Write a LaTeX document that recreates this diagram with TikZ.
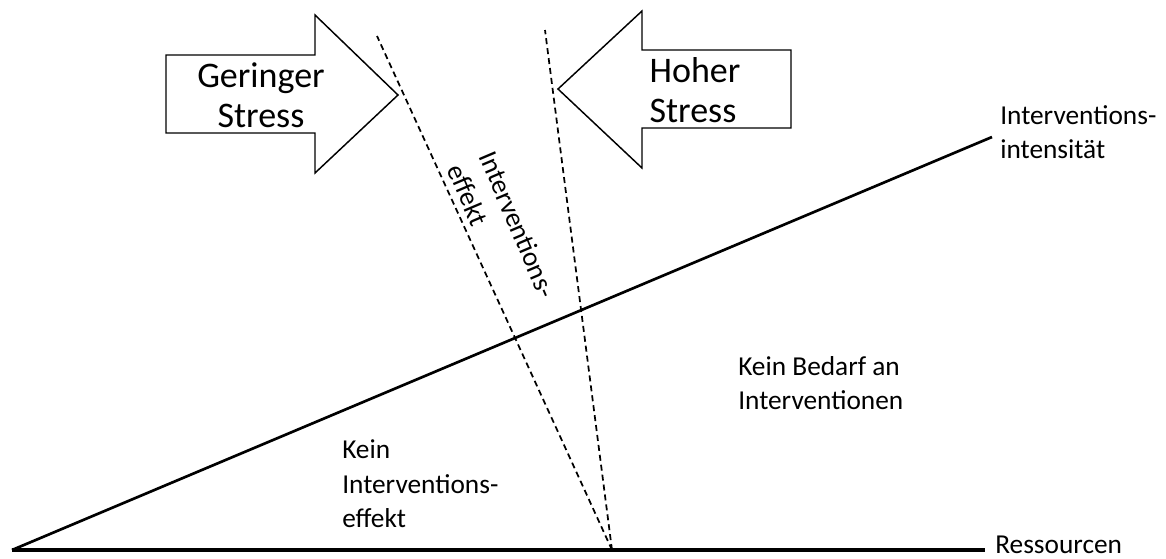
\documentclass[tikz,border=0pt]{standalone}
\usepackage{fontspec}
\setmainfont{Carlito}
\usetikzlibrary{calc}

\begin{document}
\begin{tikzpicture}[x=0.75pt, y=-0.75pt,
  bigtext/.style={font=\fontsize{27}{30}\selectfont, inner sep=0},
  smalltext/.style={font=\fontsize{20.5}{26}\selectfont, inner sep=0, align=left}]
\pgfmathsetmacro{\axiswidth}{2.3}
\pgfmathsetmacro{\slopewidth}{2}
\pgfmathsetmacro{\arrowwidth}{1.1}
\pgfmathsetmacro{\dashedwidth}{1.3}

\useasboundingbox (0,0) rectangle (1166,558);

\coordinate (origin) at (12,550);
\coordinate (res_end) at (985,550);
\coordinate (int_end) at (992,137);
\coordinate (meet) at (612,550);
\coordinate (low_top) at (377,36);
\coordinate (high_top) at (545,30);
\coordinate (low_tip) at (398,95);
\coordinate (high_tip) at (558,89);

% axes
\draw [line width=\axiswidth] (origin) -- (res_end);
\draw [line width=\slopewidth] (origin) -- (int_end);

% stress lines
\draw [dash pattern=on 4.5pt off 3pt, line width=\dashedwidth] (meet) -- (low_top);
\draw [dash pattern=on 4.5pt off 3pt, line width=\dashedwidth] (meet) -- (high_top);

% block arrows
\draw [line width=\arrowwidth, fill=white] (166,55) -- (315,55) -- (315,15) -- (low_tip)
  -- (315,173) -- (315,133) -- (166,133) -- cycle;
\draw [line width=\arrowwidth, fill=white] (high_tip) -- (642,11) -- (642,50) -- (791,50)
  -- (791,128) -- (642,128) -- (642,168) -- cycle;
\node [bigtext, align=center] (geringer) at (261,95) {Geringer\\Stress};
\node [bigtext, align=left] (hoher) at (695,90) {Hoher\\Stress};

\node [smalltext, rotate=-67] (effekt) at (502,231) {Interventions-\\effekt};
\node [smalltext, anchor=west] (ressourcen) at ($(res_end)+(10,-5)$) {Ressourcen};
\node [smalltext, anchor=west] (intensitaet) at ($(int_end)+(8,-5)$) {Interventions-\\intensität};
\node [smalltext, anchor=west] (bedarf) at (738,383) {Kein Bedarf an\\Interventionen};
\node [smalltext, anchor=west] (keineffekt) at (342,484) {Kein\\Interventions-\\effekt};
\end{tikzpicture}
\end{document}
